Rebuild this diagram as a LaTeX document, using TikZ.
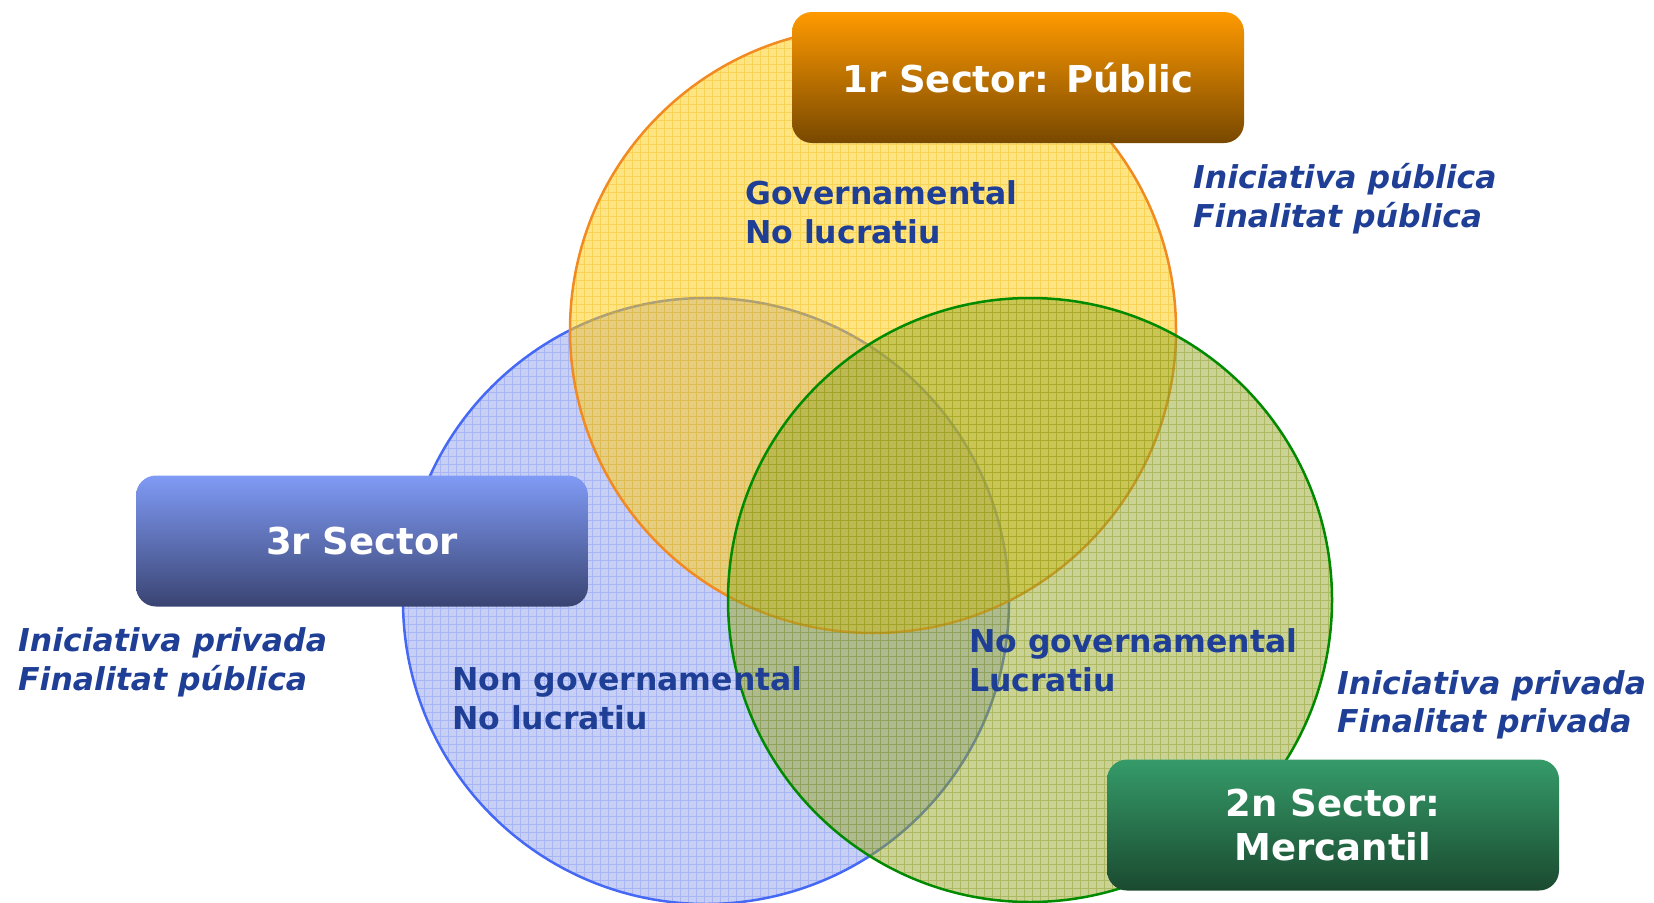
\documentclass[tikz,border=0pt]{standalone}
\usepackage{fontspec}
\setmainfont{DejaVu Sans}
\definecolor{txtblue}{RGB}{31,63,150}
\definecolor{yfill}{RGB}{255,205,30}
\definecolor{ygrid}{RGB}{235,180,0}
\definecolor{yline}{RGB}{242,138,34}
\definecolor{bfill}{RGB}{170,182,240}
\definecolor{bgrid}{RGB}{110,135,240}
\definecolor{bline}{RGB}{70,105,245}
\definecolor{gfill}{RGB}{150,168,40}
\definecolor{ggrid}{RGB}{120,140,10}
\definecolor{gline}{RGB}{0,138,0}
\definecolor{otop}{RGB}{255,154,0}
\definecolor{obot}{RGB}{120,72,0}
\definecolor{btop}{RGB}{128,155,245}
\definecolor{bbot}{RGB}{58,68,115}
\definecolor{gtop}{RGB}{53,155,105}
\definecolor{gbot}{RGB}{26,74,48}
\begin{document}
\begin{tikzpicture}[x=1pt,y=-1pt,
  lbl/.style={font=\bfseries\fontsize{31.5}{39}\selectfont, text=txtblue, anchor=base west, inner sep=0pt},
  ilbl/.style={lbl, font=\bfseries\itshape\fontsize{31.5}{39}\selectfont},
  sbox/.style={rounded corners=20pt, minimum width=452pt, minimum height=131pt, text=white,
    font=\bfseries\fontsize{37}{44}\selectfont, align=center, inner sep=0pt},
  gridline/.style={line width=1pt, opacity=0.35},
]
\useasboundingbox (0,0) rectangle (1654,902);

% blue circle
\fill[bfill, fill opacity=0.65] (706,601) circle (303pt);
\begin{scope}
  \clip (706,601) circle (303pt);
  \draw[gridline, bgrid] (400,296) grid[step=8pt] (1012,906);
\end{scope}
\draw[bline, line width=2.5pt] (706,601) circle (303pt);

% yellow circle
\fill[yfill, fill opacity=0.55] (873,330) circle (303pt);
\begin{scope}
  \clip (873,330) circle (303pt);
  \draw[gridline, ygrid] (568,24) grid[step=8pt] (1180,636);
\end{scope}
\draw[yline, line width=2.5pt] (873,330) circle (303pt);

% green circle
\fill[gfill, fill opacity=0.5] (1030,600) circle (302pt);
\begin{scope}
  \clip (1030,600) circle (302pt);
  \draw[gridline, ggrid] (726,296) grid[step=8pt] (1336,904);
\end{scope}
\draw[gline, line width=2.5pt] (1030,600) circle (302pt);

% sector boxes
\node[sbox, top color=otop, bottom color=obot] (pub) at (1018,77.5) {1r Sector: Públic};
\node[sbox, top color=btop, bottom color=bbot] (ter) at (362,541) {3r Sector};
\node[sbox, top color=gtop, bottom color=gbot] (mer) at (1333,825) {2n Sector:\\Mercantil};

% region labels
\node[lbl] (gov1) at (745,204) {Governamental};
\node[lbl] (gov2) at (745,243) {No lucratiu};
\node[lbl] (ngo1) at (452,690) {Non governamental};
\node[lbl] (ngo2) at (452,729) {No lucratiu};
\node[lbl] (mer1) at (969,652) {No governamental};
\node[lbl] (mer2) at (969,691) {Lucratiu};

% italic side labels
\node[ilbl] (pi1) at (1193,188) {Iniciativa pública};
\node[ilbl] (pi2) at (1193,227) {Finalitat pública};
\node[ilbl] (ti1) at (18,651) {Iniciativa privada};
\node[ilbl] (ti2) at (18,690) {Finalitat pública};
\node[ilbl] (mi1) at (1337,694) {Iniciativa privada};
\node[ilbl] (mi2) at (1337,732) {Finalitat privada};
\end{tikzpicture}
\end{document}
